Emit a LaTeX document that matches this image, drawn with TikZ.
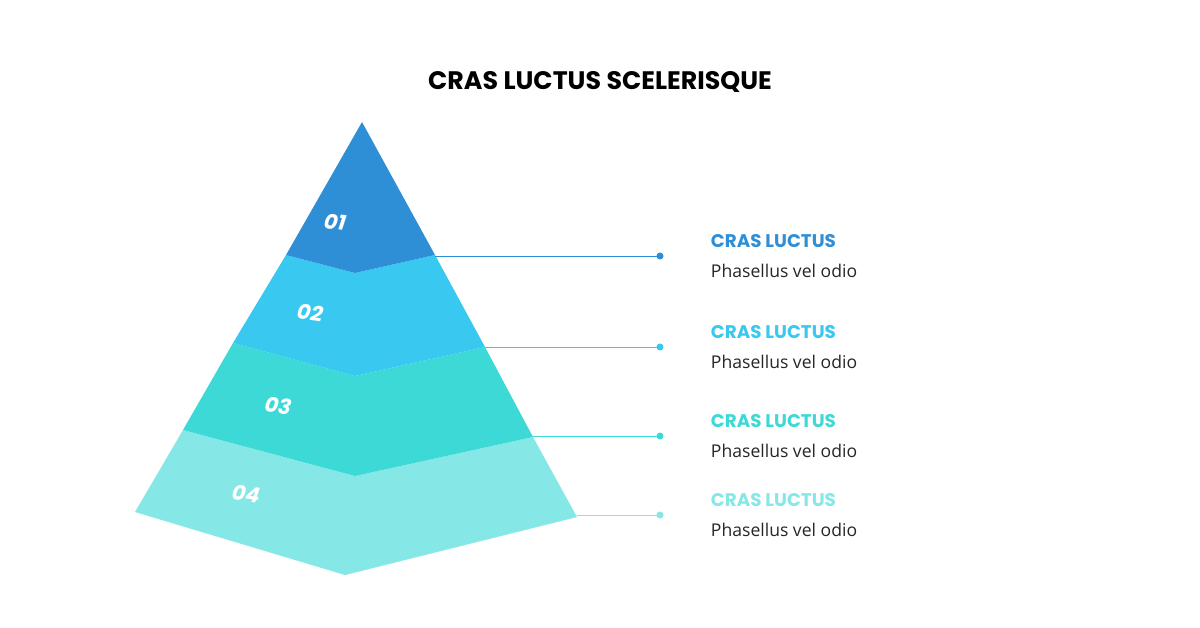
\documentclass[tikz,border=0pt]{standalone}
\usepackage{fontspec}
\setmainfont{Poppins}
\newfontfamily\bodyfont{Open Sans}
\usetikzlibrary{positioning}
\definecolor{tierone}{HTML}{2E8FD6}
\definecolor{tiertwo}{HTML}{38C8F0}
\definecolor{tierthree}{HTML}{3DD9D6}
\definecolor{tierfour}{HTML}{85E8E6}
\tikzset{
  tiernum/.style={text=white, font=\bfseries\itshape\fontsize{15}{15}\selectfont, rotate=-8},
  tierhead/.style={anchor=west, font=\bfseries\fontsize{13}{13}\selectfont},
  tiersub/.style={anchor=west, text=black!85, font=\bodyfont\fontsize{12.5}{13}\selectfont},
  leader/.style={line width=0.7pt},
}
\begin{document}
\begin{tikzpicture}[x=0.025cm, y=-0.025cm]
  \useasboundingbox[fill=white] (0,0) rectangle (1200,628);
  \node[font=\bfseries\fontsize{18}{18}\selectfont] (title) at (600,82) {CRAS LUCTUS SCELERISQUE};

  % pyramid tiers
  \fill[tierfour] (183,430) -- (355,476) -- (533,437) -- (577,517) -- (345,575) -- (135,512) -- cycle;
  \fill[tierthree] (233,343) -- (355,376) -- (485,347) -- (533,437) -- (355,476) -- (183,430) -- cycle;
  \fill[tiertwo] (286,255) -- (355,273) -- (435,255) -- (485,347) -- (355,376) -- (233,343) -- cycle;
  \fill[tierone] (362,122) -- (435,255) -- (355,273) -- (286,255) -- cycle;

  % numbers
  \node[tiernum] (n1) at (335,222) {01};
  \node[tiernum] (n2) at (310,313) {02};
  \node[tiernum] (n3) at (278,406) {03};
  \node[tiernum] (n4) at (246,494) {04};

  % leaders and labels
  \foreach \i/\c/\xa/\ya/\yt in {1/tierone/435/256/241, 2/tiertwo/485/347/332, 3/tierthree/533/436/421, 4/tierfour/577/515/500} {
    \coordinate (a\i) at (\xa,\ya);
    \coordinate (d\i) at (660,\ya);
    \draw[leader, \c] (a\i) -- (d\i);
    \fill[\c] (d\i) circle (3.5);
    \node[tierhead, text=\c] (h\i) at (706,\yt) {CRAS LUCTUS};
    \node[tiersub] (s\i) at (706,\yt+30) {Phasellus vel odio};
  }
\end{tikzpicture}
\end{document}
